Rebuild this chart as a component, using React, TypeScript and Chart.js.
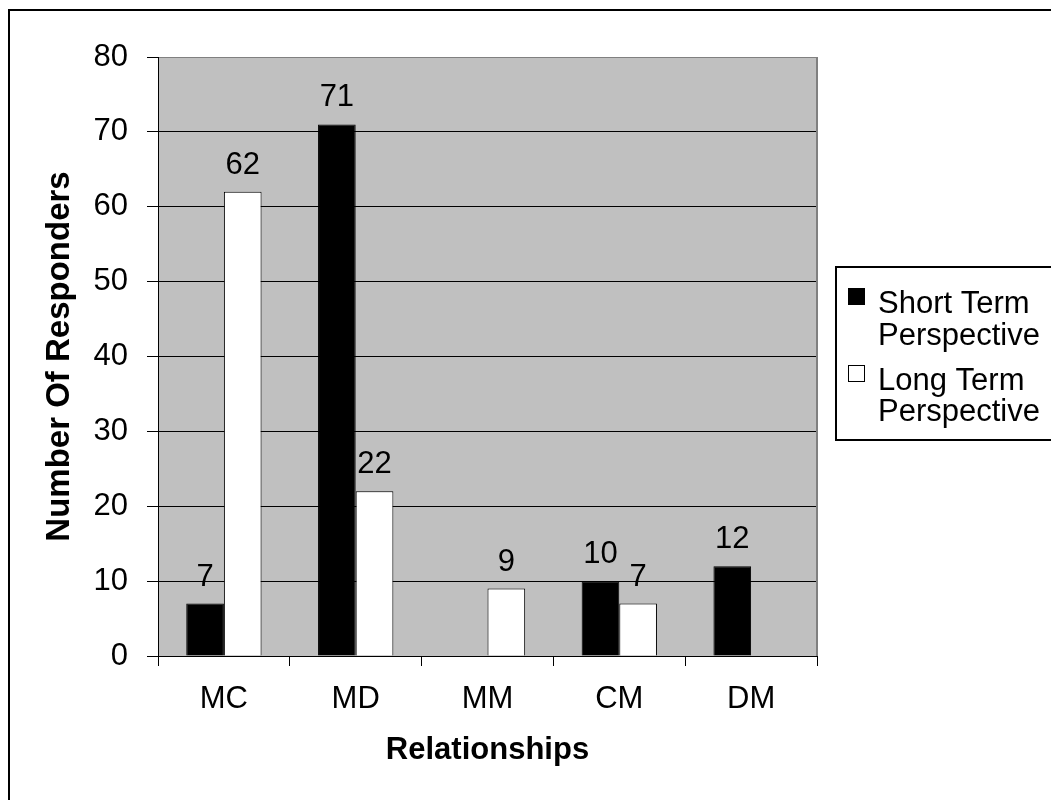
import React, { useEffect, useRef } from 'react';
import { Chart, registerables } from 'chart.js';

Chart.register(...registerables);

const categories = ['MC', 'MD', 'MM', 'CM', 'DM'];
const shortTerm: (number | null)[] = [7, 71, null, 10, 12];
const longTerm: (number | null)[] = [62, 22, 9, 7, null];
const seriesNames = ['Short Term Perspective', 'Long Term Perspective'];
const seriesFill = ['#000000', '#ffffff'];
const yMin = 0;
const yMax = 80;
const yStep = 10;
const xTitle = 'Relationships';
const yTitle = 'Number Of Responders';

const FONT = '"Liberation Sans", Arial, Helvetica, sans-serif';
const FS = 31;

const decorPlugin = {
  id: 'decor',
  beforeDraw(chart: any) {
    const { ctx, chartArea: a } = chart;
    ctx.save();
    ctx.fillStyle = '#ffffff';
    ctx.fillRect(0, 0, chart.width, chart.height);
    ctx.fillStyle = '#C0C0C0';
    ctx.fillRect(a.left, a.top, a.right - a.left, a.bottom - a.top);
    ctx.strokeStyle = '#000';
    ctx.lineWidth = 2;
    ctx.strokeRect(9, 10, chart.width + 40, chart.height + 40);
    ctx.restore();
  },
  afterDatasetsDraw(chart: any) {
    const { ctx, chartArea: a } = chart;
    ctx.save();
    ctx.strokeStyle = '#808080';
    ctx.lineWidth = 2;
    ctx.beginPath();
    ctx.moveTo(a.right, a.top);
    ctx.lineTo(a.right, a.bottom);
    ctx.stroke();
    ctx.fillStyle = '#000';
    ctx.font = `${FS}px ${FONT}`;
    ctx.textAlign = 'center';
    ctx.textBaseline = 'alphabetic';
    chart.data.datasets.forEach((ds: any, i: number) => {
      const meta = chart.getDatasetMeta(i);
      meta.data.forEach((el: any, j: number) => {
        const v = ds.data[j];
        if (v == null) return;
        ctx.fillText(String(v), el.x, el.y - 18);
      });
    });
    ctx.restore();
  },
  afterDraw(chart: any) {
    const { ctx } = chart;
    ctx.save();
    ctx.strokeStyle = '#000';
    ctx.lineWidth = 2;
    ctx.strokeRect(836, 267, 300, 173);
    ctx.font = `${FS}px ${FONT}`;
    ctx.textAlign = 'left';
    ctx.textBaseline = 'alphabetic';
    const baselines = [[313, 345], [390, 421]];
    const swatchTop = [288, 365];
    chart.data.datasets.forEach((ds: any, i: number) => {
      const label: string = ds.label;
      const k = label.lastIndexOf(' ');
      const lines = [label.slice(0, k), label.slice(k + 1)];
      ctx.fillStyle = ds.backgroundColor;
      ctx.fillRect(848, swatchTop[i], 17, 17);
      ctx.strokeStyle = '#000';
      ctx.lineWidth = 1;
      ctx.strokeRect(848.5, swatchTop[i] + 0.5, 16, 16);
      ctx.fillStyle = '#000';
      lines.forEach((ln, li) => ctx.fillText(ln, 878, baselines[i][li]));
    });
    ctx.restore();
  },
};

export default function App() {
  const ref = useRef<HTMLCanvasElement>(null);
  useEffect(() => {
    document.body.style.margin = '0';
    Chart.defaults.font.family = FONT;
    Chart.defaults.color = '#000';
    const chart = new Chart(ref.current as HTMLCanvasElement, {
      type: 'bar',
      data: {
        labels: categories,
        datasets: [
          {
            label: seriesNames[0],
            data: shortTerm,
            backgroundColor: seriesFill[0],
            borderColor: '#000',
            borderWidth: 1,
            categoryPercentage: 1 / 1.75,
            barPercentage: 1,
          },
          {
            label: seriesNames[1],
            data: longTerm,
            backgroundColor: seriesFill[1],
            borderColor: '#000',
            borderWidth: 1,
            categoryPercentage: 1 / 1.75,
            barPercentage: 1,
          },
        ],
      },
      options: {
        responsive: false,
        animation: false,
        devicePixelRatio: 1,
        layout: { padding: { top: 57, right: 234, left: 0, bottom: 0 } },
        plugins: {
          legend: { display: false },
          tooltip: { enabled: false },
        },
        scales: {
          x: {
            grid: {
              offset: true,
              drawOnChartArea: false,
              drawTicks: true,
              tickLength: 10,
              color: '#000',
              tickColor: '#000',
              lineWidth: 1,
            },
            border: { color: '#000', width: 1 },
            ticks: { color: '#000', font: { size: FS, family: FONT }, padding: 15, maxRotation: 0 },
            title: {
              display: true,
              text: xTitle,
              color: '#000',
              font: { size: FS, weight: 'bold', family: FONT },
              padding: { top: 0, bottom: 31 },
            },
            afterFit: (s: any) => {
              s.height = 800 - 656;
            },
          },
          y: {
            min: yMin,
            max: yMax,
            ticks: { stepSize: yStep, color: '#000', font: { size: FS, family: FONT }, padding: 19 },
            grid: {
              color: (c: any) => (c.tick && c.tick.value === yMax ? '#808080' : '#000'),
              tickColor: '#000',
              tickLength: 11,
              lineWidth: 1,
            },
            border: { color: '#000', width: 1 },
            title: {
              display: true,
              text: yTitle,
              color: '#000',
              font: { size: 33, weight: 'bold', family: FONT },
              padding: { top: 40, bottom: 0 },
            },
            afterFit: (s: any) => {
              s.width = 158;
            },
          },
        },
      },
      plugins: [decorPlugin],
    } as any);
    return () => chart.destroy();
  }, []);
  return (
    <div style={{ width: 1051, height: 800, position: 'relative', overflow: 'hidden' }}>
      <canvas ref={ref} width={1051} height={800} style={{ width: 1051, height: 800, display: 'block' }} />
    </div>
  );
}
